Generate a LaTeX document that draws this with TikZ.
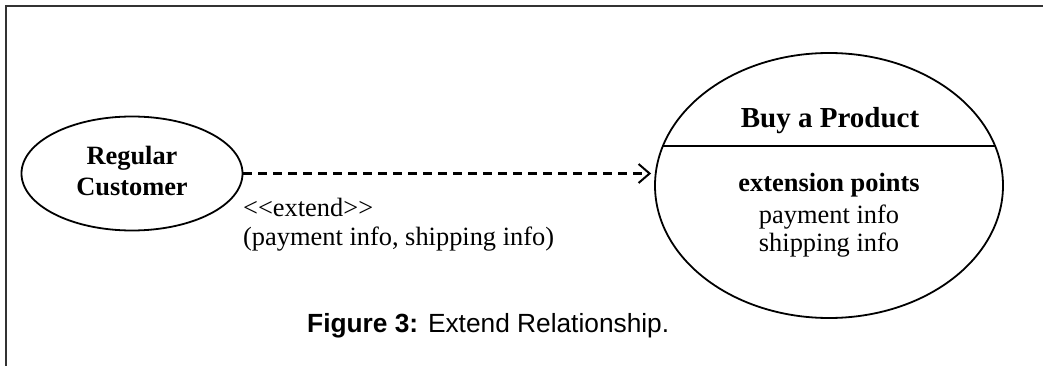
\documentclass[tikz,border=0pt]{standalone}
\usepackage{fontspec}
\setmainfont{Liberation Serif}
\newfontfamily\capfont{Liberation Sans}
\usetikzlibrary{arrows.meta,shapes.geometric}
\begin{document}
\begin{tikzpicture}[x=1pt,y=-1pt,
  usecase/.style={draw,ellipse,line width=1.8pt,inner sep=0pt},
  txt/.style={inner sep=0pt,anchor=base,font=\fontsize{26.4}{30}\selectfont},
  btxt/.style={txt,font=\fontsize{26.4}{30}\selectfont\bfseries},
  extendarrow/.style={line width=2.2pt,dash pattern=on 9pt off 6pt,
    -{Straight Barb[length=11pt,width=19pt,line width=2pt]},shorten >=3pt},
  frameline/.style={line width=1.8pt,draw=black!80}]
\useasboundingbox (0,0) rectangle (1043,366);
% frame
\coordinate (fbl) at (6,366);
\coordinate (ftl) at (6,6);
\coordinate (ftr) at (1043,6);
\draw[frameline] (fbl) -- (ftl) -- (ftr);
% actor use case
\node[usecase,minimum width=221pt,minimum height=114pt] (cust) at (132,173.5) {};
\node[btxt] (reg) at (132,165) {Regular};
\node[btxt] (custtxt) at (132,195) {Customer};
% main use case
\node[usecase,minimum width=348pt,minimum height=265pt] (buy) at (829,185.5) {};
\coordinate (chl) at (663,146);
\coordinate (chr) at (995,146);
\draw[line width=1.8pt] (chl) -- (chr);
\node[btxt,font=\fontsize{29}{33}\selectfont\bfseries] (title) at (830,128) {Buy a Product};
\node[btxt] (ext) at (829,191.5) {extension points};
\node[txt] (p1) at (829,223) {payment info};
\node[txt] (p2) at (829,251.5) {shipping info};
% extend relationship
\draw[extendarrow] (cust.east) -- (cust.east -| buy.west);
\node[txt,anchor=base west] (st) at (243,216) {<{}<extend>{}>};
\node[txt,anchor=base west] (pts) at (243,245) {(payment info, shipping info)};
% caption
\node[txt,anchor=base west,font=\fontsize{26.3}{30}\capfont] (cap) at (307,332) {\textbf{Figure 3:} Extend Relationship.};
\end{tikzpicture}
\end{document}
